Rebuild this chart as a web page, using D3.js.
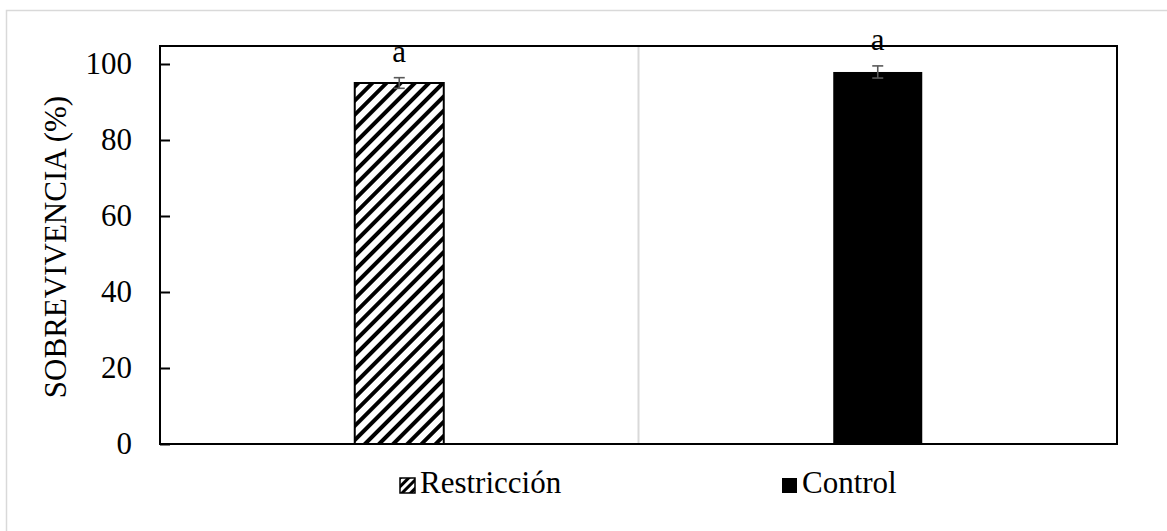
<!DOCTYPE html>
<html>
<head>
<meta charset="utf-8">
<script src="https://cdn.jsdelivr.net/npm/d3@7"></script>
<style>
  html, body { margin: 0; padding: 0; background: #fff; }
  svg { display: block; }
  svg text { font-family: 'Liberation Serif', 'Times New Roman', Times, serif !important; fill: #000; }
</style>
</head>
<body>
<svg id="chart" width="1167" height="531"></svg>
<script>
// Survival by treatment
const categories = ["Restricción", "Control"];
const survival = [95.0, 97.9];
const errors = [1.4, 1.6];
const letters = ["a", "a"];
const yTicks = [0, 20, 40, 60, 80, 100];

const SERIF = "'Liberation Serif', 'Times New Roman', Times, serif";
const plot = { left: 160, right: 1117, top: 46, bottom: 444 };

const svg = d3.select("#chart").attr("font-family", SERIF);

// outer frame (right and bottom edges sit past the canvas)
svg.append("rect")
  .attr("x", 6.5).attr("y", 10.5)
  .attr("width", 1200).attr("height", 600)
  .attr("fill", "none").attr("stroke", "#d9d9d9").attr("stroke-width", 1.5);

// hatch patterns for Restricción
const defs = svg.append("defs");
function hatch(id, size, stripe) {
  const p = defs.append("pattern")
    .attr("id", id)
    .attr("patternUnits", "userSpaceOnUse")
    .attr("width", size).attr("height", size)
    .attr("patternTransform", "rotate(45)");
  p.append("rect").attr("width", size).attr("height", size).attr("fill", "#fff");
  p.append("rect").attr("width", stripe).attr("height", size).attr("fill", "#000");
}
hatch("hatch", 10, 4);
hatch("hatchSmall", 6, 3);

const fills = ["url(#hatch)", "#000"];
const legendFills = ["url(#hatchSmall)", "#000"];

// 100 sits at y=64; the frame top reaches a little above it
const y = d3.scaleLinear()
  .domain([0, 100])
  .range([plot.bottom, 64]);

const x = d3.scaleBand()
  .domain(categories)
  .range([plot.left, plot.right])
  .padding(0);

const barW = x.bandwidth() * 0.186;

// category separator
svg.append("line")
  .attr("x1", x(categories[1])).attr("x2", x(categories[1]))
  .attr("y1", plot.top).attr("y2", plot.bottom)
  .attr("stroke", "#d9d9d9").attr("stroke-width", 2);

// bars
const g = svg.append("g");
categories.forEach((c, i) => {
  const cx = x(c) + x.bandwidth() / 2;
  g.append("rect")
    .attr("x", cx - barW / 2)
    .attr("y", y(survival[i]))
    .attr("width", barW)
    .attr("height", y(0) - y(survival[i]))
    .attr("fill", fills[i])
    .attr("stroke", "#000")
    .attr("stroke-width", i === 0 ? 2 : 0);

  // error bar
  const eg = g.append("g").attr("stroke", "#595959").attr("stroke-width", 1.6);
  const y1 = y(survival[i] + errors[i]), y2 = y(survival[i] - errors[i]);
  eg.append("line").attr("x1", cx).attr("x2", cx).attr("y1", y1).attr("y2", y2);
  eg.append("line").attr("x1", cx - 5.5).attr("x2", cx + 5.5).attr("y1", y1).attr("y2", y1);
  eg.append("line").attr("x1", cx - 5.5).attr("x2", cx + 5.5).attr("y1", y2).attr("y2", y2);

  // significance letter
  g.append("text")
    .attr("x", cx)
    .attr("y", y1 - 16)
    .attr("text-anchor", "middle")
    .attr("font-family", SERIF)
    .attr("font-size", 31)
    .text(letters[i]);
});

// plot frame
svg.append("rect")
  .attr("x", plot.left).attr("y", plot.top)
  .attr("width", plot.right - plot.left)
  .attr("height", plot.bottom - plot.top)
  .attr("fill", "none").attr("stroke", "#000").attr("stroke-width", 2);

// y axis with inward ticks
const yAxis = d3.axisLeft(y).tickValues(yTicks).tickSize(-10).tickPadding(28);
const ya = svg.append("g")
  .attr("transform", `translate(${plot.left},0)`)
  .call(yAxis)
  .attr("font-family", SERIF)
  .attr("font-size", 31);
ya.select(".domain").remove();
ya.selectAll(".tick line").attr("stroke", "#000").attr("stroke-width", 2);
ya.selectAll(".tick text").attr("fill", "#000");

// y title
svg.append("text")
  .attr("transform", `translate(66,${(plot.top + plot.bottom) / 2 + 2}) rotate(-90)`)
  .attr("text-anchor", "middle")
  .attr("font-family", SERIF)
  .attr("font-size", 31)
  .text("SOBREVIVENCIA (%)");

// legend
const legendX = [399, 781];
categories.forEach((c, i) => {
  const lg = svg.append("g").attr("transform", `translate(${legendX[i]},477)`);
  lg.append("rect")
    .attr("x", 1).attr("y", 1).attr("width", 15).attr("height", 15)
    .attr("fill", legendFills[i])
    .attr("stroke", "#000").attr("stroke-width", i === 0 ? 1.5 : 0);
  lg.append("text")
    .attr("x", 21).attr("y", 16)
    .attr("font-family", SERIF)
    .attr("font-size", 31)
    .text(c);
});
</script>
</body>
</html>
